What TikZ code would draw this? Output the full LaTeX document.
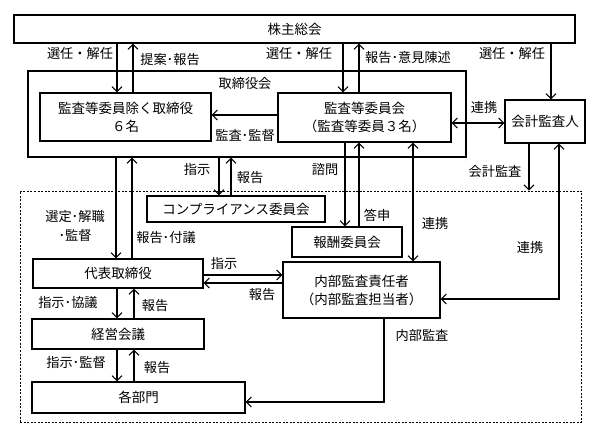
\documentclass[tikz,border=0pt]{standalone}
\usepackage{fontspec}
\setmainfont{Noto Sans CJK JP}
\usetikzlibrary{arrows.meta}
\begin{document}
\begin{tikzpicture}[x=1pt,y=-1pt,
  box/.style={draw,line width=1.1pt,inner sep=0pt,align=center,font=\fontsize{13.5}{18}\selectfont},
  lbl/.style={inner sep=0pt,align=center,font=\fontsize{13.2}{19}\selectfont},
  arr/.style={line width=1.1pt,-{Straight Barb[length=5pt,width=10pt]}},
  darr/.style={line width=1.1pt,{Straight Barb[length=5pt,width=10pt]}-{Straight Barb[length=5pt,width=10pt]}}]
\useasboundingbox (0,0) rectangle (600,438);
% boxes
\node[box,minimum width=561pt,minimum height=28pt] (sh) at (294.5,29) {株主総会};
\node[draw,line width=1.1pt,minimum width=438pt,minimum height=86pt] (bod) at (247,114) {};
\node[lbl] (bodl) at (245,84) {取締役会};
\node[box,minimum width=171pt,minimum height=48pt] (dir) at (125.5,117) {監査等委員除く取締役\\６名};
\node[box,minimum width=173pt,minimum height=49pt] (ac) at (364.5,117.5) {監査等委員会\\（監査等委員３名）};
\node[box,minimum width=80pt,minimum height=43pt] (aud) at (545,121.5) {会計監査人};
\node[draw,dash pattern=on 2pt off 1.5pt,line width=0.8pt,minimum width=561pt,minimum height=231pt] (dash) at (300.5,306.5) {};
\node[box,minimum width=178pt,minimum height=26pt] (comp) at (236,209) {コンプライアンス委員会};
\node[box,minimum width=110pt,minimum height=30pt] (rem) at (347,242) {報酬委員会};
\node[box,minimum width=157pt,minimum height=56pt] (ia) at (361.5,290) {内部監査責任者\\（内部監査担当者）};
\node[box,minimum width=170pt,minimum height=29pt] (ceo) at (118,273.5) {代表取締役};
\node[box,minimum width=172pt,minimum height=30pt] (mm) at (118,334) {経営会議};
\node[box,minimum width=213pt,minimum height=31pt] (dept) at (138.5,397.5) {各部門};
% connectors
\draw[arr] (sh.south -| 117,0) -- (dir.north -| 117,0);
\draw[arr] (dir.north -| 133,0) -- (sh.south -| 133,0);
\draw[arr] (sh.south -| 343,0) -- (ac.north -| 343,0);
\draw[arr] (ac.north -| 359,0) -- (sh.south -| 359,0);
\draw[arr] (sh.south -| 551,0) -- (aud.north -| 551,0);
\draw[arr] (ac.west |- 0,115) -- (dir.east |- 0,115);
\draw[darr] (ac.east |- 0,123) -- (aud.west |- 0,123);
\draw[arr] (aud.south -| 529,0) -- (dash.north -| 529,0);
\draw[darr] (ia.east |- 0,299) -| (aud.south -| 559,0);
\draw[arr] (bod.south -| 219,0) -- (comp.north -| 219,0);
\draw[arr] (comp.north -| 231,0) -- (bod.south -| 231,0);
\draw[arr] (ac.south -| 345,0) -- (rem.north -| 345,0);
\draw[arr] (rem.north -| 359,0) -- (ac.south -| 359,0);
\draw[darr] (ac.south -| 413,0) -- (ia.north -| 413,0);
\draw[arr] (bod.south -| 116,0) -- (ceo.north -| 116,0);
\draw[arr] (ceo.north -| 132,0) -- (bod.south -| 132,0);
\draw[arr] (ceo.east |- 0,275) -- (ia.west |- 0,275);
\draw[arr] (ia.west |- 0,283) -- (ceo.east |- 0,283);
\draw[arr] (ceo.south -| 117,0) -- (mm.north -| 117,0);
\draw[arr] (mm.north -| 134,0) -- (ceo.south -| 134,0);
\draw[arr] (mm.south -| 117,0) -- (dept.north -| 117,0);
\draw[arr] (dept.north -| 134,0) -- (mm.south -| 134,0);
\draw[arr] (ia.south -| 384,0) |- (dept.east |- 0,402);
% labels
\node[lbl] (l1) at (80,53) {選任・解任};
\node[lbl] (l2) at (170,60) {提案･報告};
\node[lbl] (l3) at (299,53) {選任・解任};
\node[lbl] (l4) at (408,58) {報告･意見陳述};
\node[lbl] (l5) at (512,53) {選任・解任};
\node[lbl] (l6) at (245,135) {監査･監督};
\node[lbl] (l7) at (484,107) {連携};
\node[lbl] (l8) at (495,172) {会計監査};
\node[lbl] (l9) at (530,247) {連携};
\node[lbl] (l10) at (197,169) {指示};
\node[lbl] (l11) at (250,178) {報告};
\node[lbl] (l12) at (325,169) {諮問};
\node[lbl] (l13) at (377,215) {答申};
\node[lbl] (l14) at (435,223) {連携};
\node[lbl] (l15) at (75,226) {選定･解職\\･監督};
\node[lbl] (l16) at (166,238) {報告･付議};
\node[lbl] (l17) at (224,263) {指示};
\node[lbl] (l18) at (262,295) {報告};
\node[lbl] (l19) at (68,303) {指示･協議};
\node[lbl] (l20) at (155,306) {報告};
\node[lbl] (l21) at (76,362) {指示･監督};
\node[lbl] (l22) at (157,368) {報告};
\node[lbl] (l23) at (422,335) {内部監査};
\end{tikzpicture}
\end{document}
